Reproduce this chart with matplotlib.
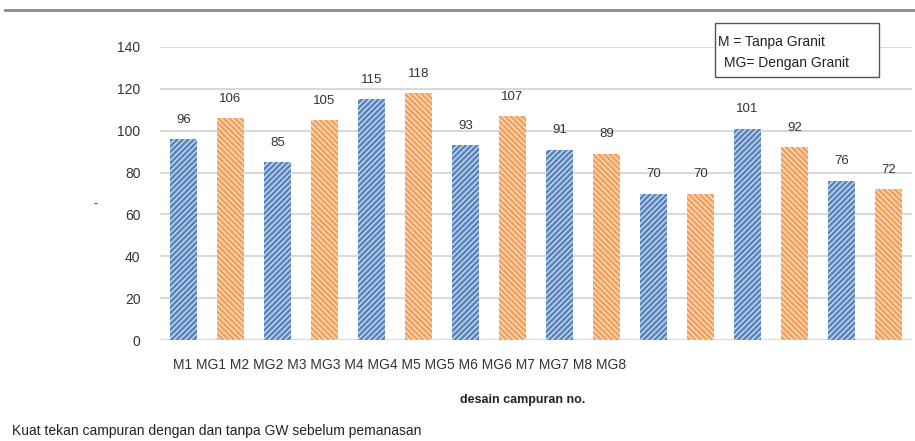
import matplotlib
matplotlib.use("Agg")
import matplotlib.pyplot as plt
from matplotlib.lines import Line2D
from matplotlib.patches import Rectangle

plt.rcParams['font.family'] = ['Liberation Sans', 'DejaVu Sans']
plt.rcParams['hatch.linewidth'] = 2.0

# Mix designs and compressive strength before heating
categories = ["M1", "MG1", "M2", "MG2", "M3", "MG3", "M4", "MG4",
              "M5", "MG5", "M6", "MG6", "M7", "MG7", "M8", "MG8"]
strength = [96, 106, 85, 105, 115, 118, 93, 107,
            91, 89, 70, 70, 101, 92, 76, 72]
yticks = [0, 20, 40, 60, 80, 100, 120, 140]
key_lines = ["M = Tanpa Granit", "MG= Dengan Granit"]

blue, blue_bg = "#5a86bf", "#dce9f7"
orange, orange_bg = "#f2a25e", "#fde8d4"

W, H = 915, 441
fig = plt.figure(figsize=(W / 100, H / 100), dpi=100)
ax = fig.add_axes([160 / W, 1 - 340 / H, 752 / W, (340 - 47) / H])

for i, v in enumerate(strength):
    is_m = not categories[i].startswith("MG")
    col, bg = (blue, blue_bg) if is_m else (orange, orange_bg)
    ax.bar(i, v, width=0.56, facecolor=bg, edgecolor=col,
           hatch="//////" if is_m else "\\\\\\\\\\\\", linewidth=0, zorder=3)
    ax.annotate(str(v), (i, v), xytext=(0, 14), textcoords="offset points",
                ha="center", va="center", fontsize=9.5, color="#333333")

ax.set_xlim(-0.5, len(categories) - 0.5)
ax.set_ylim(0, 140)
ax.set_yticks(yticks)
ax.set_xticks([])
ax.tick_params(axis="y", length=0, pad=14, labelsize=10, labelcolor="#333333")
ax.grid(axis="y", color="#d9d9d9", linewidth=1.5, zorder=0)
for s in ax.spines.values():
    s.set_visible(False)

# Category labels run together along the bottom
fig.text(173 / W, 1 - 365 / H, " ".join(categories), ha="left", va="center",
         fontsize=10, color="#333333")
fig.text(523 / W, 1 - 400 / H, "desain campuran no.", ha="center", va="center",
         fontsize=9, fontweight="bold", color="#222222")
fig.text(95 / W, 1 - 204 / H, "-", ha="center", va="center", fontsize=9,
         color="#222222")

# Key box
fig.add_artist(Rectangle((715 / W, 1 - 77 / H), (879 - 715) / W, (77 - 23) / H,
                         transform=fig.transFigure, facecolor="white",
                         edgecolor="#555555", linewidth=1.0, zorder=5))
fig.text(718 / W, 1 - 42 / H, key_lines[0], ha="left", va="center",
         fontsize=10, color="#222222", zorder=6)
fig.text(724 / W, 1 - 63 / H, key_lines[1], ha="left", va="center",
         fontsize=10, color="#222222", zorder=6)

fig.text(12 / W, 1 - 431 / H,
         "Kuat tekan campuran dengan dan tanpa GW sebelum pemanasan",
         ha="left", va="center", fontsize=10, color="#222222")

# Rule across the top of the page
fig.add_artist(Line2D([5 / W, 1.0], [1 - 10 / H, 1 - 10 / H],
                      transform=fig.transFigure, color="#8a8a8a", linewidth=2))

fig.savefig("out.png", dpi=100)
